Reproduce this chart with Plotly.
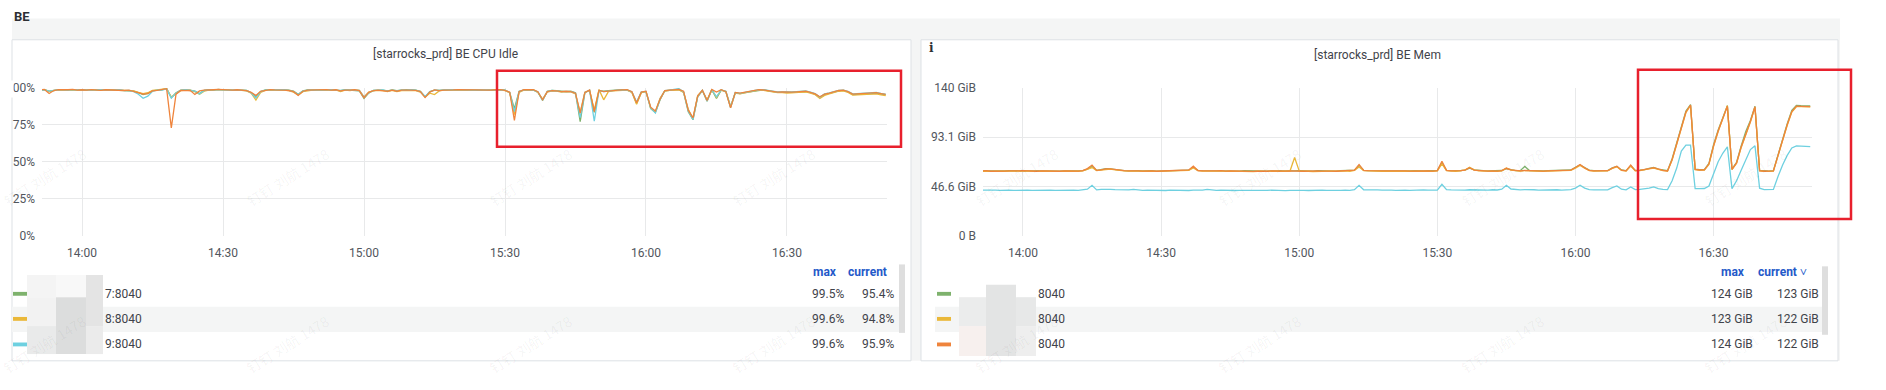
import plotly.graph_objects as go
import pandas as pd

W, H = 1886, 390

# ---------------- data ----------------
START = "2024-01-01 13:51"      # one sample per minute, 13:51 .. 16:51
N_POINTS = 181
times = pd.date_range(START, periods=N_POINTS, freq="min")

# BE CPU Idle (%)
cpu_green = [
    98.6, 98.9, 97.8, 98.5, 98.7, 98.9, 98.6, 98.8, 98.9, 98.6,
    98.7, 98.8, 98.5, 98.6, 98.9, 98.7, 98.6, 98.8, 98.6, 98.4,
    97.9, 96.8, 95.5, 96.3, 98.0, 98.6, 98.7, 99.5, 93.5, 96.8,
    98.5, 98.7, 98.6, 97.8, 96.2, 98.4, 98.8, 98.6, 99.0, 98.7,
    98.8, 98.7, 98.9, 98.6, 98.4, 96.8, 94.2, 97.5, 98.7, 98.8,
    98.6, 98.9, 98.7, 98.5, 97.8, 95.8, 98.0, 98.7, 98.6, 98.8,
    98.9, 98.7, 98.8, 98.6, 98.2, 98.8, 98.7, 98.6, 98.0, 93.0,
    96.5, 98.4, 98.7, 98.5, 98.0, 98.7, 98.2, 98.6, 98.8, 98.7,
    98.6, 97.8, 94.0, 97.5, 98.6, 98.4, 98.8, 98.7, 98.9, 98.8,
    98.9, 98.7, 98.8, 98.9, 98.7, 98.6, 98.7, 98.9, 98.8, 98.6,
    96.8, 86.0, 97.8, 98.6, 98.8, 98.7, 97.2, 91.5, 97.8, 98.4,
    98.2, 97.8, 97.5, 97.8, 96.8, 77.2, 96.8, 98.4, 83.5, 98.2,
    97.8, 98.2, 98.5, 98.6, 98.8, 98.6, 97.2, 89.5, 97.0, 97.5,
    86.0, 83.5, 92.0, 98.1, 98.7, 98.8, 98.9, 97.2, 84.0, 78.5,
    94.0, 98.3, 91.0, 98.8, 93.0, 98.6, 97.8, 87.5, 96.8, 96.2,
    96.8, 97.3, 97.8, 98.7, 98.8, 98.1, 97.3, 97.0, 97.1, 96.8,
    97.0, 97.2, 97.4, 97.6, 96.8, 95.8, 93.5, 95.5, 96.3, 97.3,
    98.1, 98.4, 97.3, 95.5, 95.8, 96.2, 96.0, 96.2, 96.5, 95.9,
    95.4,
]
cpu_yellow = [
    98.7, 98.8, 97.5, 98.4, 98.6, 98.8, 98.9, 98.7, 98.5, 98.7,
    98.6, 98.9, 98.8, 98.5, 98.7, 98.9, 98.7, 98.6, 98.4, 98.5,
    98.0, 97.0, 96.2, 96.8, 98.3, 98.7, 98.9, 99.6, 93.8, 96.0,
    98.2, 98.5, 98.3, 97.5, 95.8, 97.8, 98.6, 98.8, 98.9, 98.6,
    98.7, 98.5, 98.7, 98.4, 98.0, 96.5, 91.8, 97.0, 98.4, 98.7,
    98.5, 98.7, 98.4, 98.2, 97.2, 95.2, 97.5, 98.3, 98.6, 98.7,
    98.5, 98.8, 98.5, 98.7, 97.5, 98.5, 98.3, 98.7, 98.4, 94.0,
    97.2, 98.0, 98.4, 98.2, 97.5, 98.4, 97.5, 98.3, 98.6, 98.4,
    98.2, 97.2, 93.8, 96.5, 95.5, 98.0, 98.5, 98.7, 98.5, 98.6,
    98.6, 98.5, 98.7, 98.6, 98.5, 98.4, 98.6, 98.7, 98.8, 98.2,
    96.9, 82.0, 97.0, 98.5, 98.6, 98.8, 97.0, 92.5, 97.2, 98.0,
    97.8, 97.2, 97.5, 97.3, 96.0, 83.5, 97.2, 98.3, 85.0, 98.9,
    92.0, 97.5, 98.0, 98.2, 98.5, 98.6, 97.0, 89.0, 96.8, 97.5,
    86.5, 83.8, 93.0, 97.9, 98.4, 98.7, 98.8, 97.0, 85.5, 79.2,
    94.8, 98.2, 92.0, 98.7, 93.5, 98.5, 97.3, 87.0, 96.5, 96.0,
    96.5, 97.0, 97.5, 98.5, 98.4, 97.9, 97.0, 96.8, 96.9, 96.5,
    96.7, 96.9, 97.1, 97.3, 96.5, 95.5, 93.0, 95.0, 96.0, 97.0,
    97.8, 98.1, 97.0, 95.2, 95.4, 95.8, 95.6, 95.8, 96.0, 95.3,
    94.8,
]
cpu_cyan = [
    98.5, 98.7, 97.9, 98.6, 98.8, 98.7, 98.5, 98.9, 98.7, 98.5,
    98.8, 98.6, 98.7, 98.9, 98.5, 98.8, 98.7, 98.9, 98.2, 98.3,
    97.5, 95.8, 93.0, 94.5, 97.8, 98.5, 98.6, 99.4, 93.2, 96.5,
    98.4, 98.8, 98.5, 97.9, 96.0, 98.3, 98.7, 98.9, 98.7, 98.9,
    98.6, 98.8, 98.7, 98.4, 98.3, 96.6, 93.3, 97.6, 98.5, 98.7,
    98.8, 98.6, 98.8, 98.4, 97.6, 95.6, 97.9, 98.6, 98.8, 98.7,
    98.6, 98.8, 98.9, 98.5, 98.3, 98.7, 98.6, 98.9, 98.3, 93.8,
    96.8, 98.3, 98.5, 98.7, 97.9, 98.5, 98.0, 98.7, 98.5, 98.8,
    98.5, 97.5, 94.2, 97.4, 98.5, 98.3, 98.7, 98.8, 98.6, 99.0,
    98.7, 98.8, 98.6, 98.8, 98.9, 98.7, 98.5, 98.6, 98.9, 98.5,
    97.0, 84.0, 97.6, 98.7, 98.9, 98.6, 97.4, 91.8, 97.6, 98.3,
    98.1, 97.6, 97.7, 97.5, 96.6, 80.0, 97.0, 98.5, 77.5, 98.3,
    97.6, 98.1, 98.4, 98.6, 98.6, 98.7, 97.4, 90.5, 97.4, 97.7,
    86.5, 83.0, 92.5, 98.2, 98.5, 98.8, 99.6, 97.3, 84.5, 78.8,
    94.2, 98.4, 91.2, 98.9, 94.0, 98.7, 97.6, 86.8, 96.9, 96.4,
    97.1, 97.6, 98.1, 98.8, 98.9, 98.4, 97.6, 97.3, 97.4, 97.2,
    97.4, 97.6, 97.8, 98.0, 97.2, 96.2, 93.8, 96.0, 96.7, 97.6,
    98.4, 98.6, 97.7, 96.0, 96.2, 96.7, 96.5, 96.7, 97.0, 96.3,
    95.9,
]
cpu_orange = [
    98.8, 99.0, 96.3, 98.3, 98.9, 98.7, 98.8, 99.0, 98.6, 98.8,
    98.5, 98.9, 98.7, 98.4, 98.8, 98.6, 98.9, 98.5, 98.3, 98.6,
    97.8, 96.5, 95.8, 96.2, 98.0, 98.4, 98.8, 99.5, 73.0, 95.8,
    98.3, 98.6, 98.4, 95.6, 98.0, 98.5, 98.9, 98.8, 99.0, 98.8,
    98.9, 98.6, 98.8, 98.5, 98.2, 97.0, 95.0, 97.8, 98.6, 98.9,
    98.7, 98.8, 98.6, 98.3, 97.5, 95.0, 97.8, 98.5, 98.7, 98.9,
    98.7, 98.9, 98.6, 98.8, 98.0, 98.6, 98.5, 98.8, 98.2, 93.5,
    97.0, 98.2, 98.6, 98.4, 97.8, 98.6, 97.8, 98.5, 98.7, 98.6,
    98.4, 97.6, 93.5, 97.2, 98.7, 98.2, 98.6, 98.9, 98.7, 98.9,
    98.8, 98.6, 98.9, 98.7, 98.8, 98.6, 98.5, 98.8, 98.9, 98.4,
    97.2, 78.0, 97.5, 98.8, 98.7, 98.9, 97.5, 92.0, 97.5, 98.2,
    98.0, 97.5, 97.8, 97.6, 96.5, 83.0, 97.0, 98.6, 84.0, 98.4,
    97.5, 98.0, 98.3, 98.5, 98.7, 98.8, 97.5, 90.0, 97.2, 97.8,
    87.0, 84.5, 92.5, 98.3, 98.6, 98.9, 99.0, 97.8, 85.0, 79.8,
    94.5, 98.5, 91.5, 99.0, 97.2, 98.8, 97.5, 86.5, 97.0, 96.5,
    97.0, 97.5, 98.0, 98.9, 98.7, 98.3, 97.5, 97.2, 97.3, 97.0,
    97.2, 97.4, 97.6, 97.8, 97.0, 96.0, 94.0, 95.8, 96.5, 97.5,
    98.3, 98.5, 97.5, 95.8, 96.0, 96.5, 96.3, 96.5, 96.8, 96.2,
    95.6,
]

# BE Mem (GiB)
mem_green = [
    61.4, 61.3, 61.2, 61.5, 61.4, 61.3, 61.6, 61.3, 61.2, 61.4,
    61.3, 61.5, 61.2, 61.4, 61.3, 61.1, 61.3, 61.2, 61.4, 61.3,
    61.5, 61.3, 61.6, 63.0, 65.5, 61.9, 62.5, 63.5, 63.3, 62.5,
    61.8, 61.6, 61.4, 61.7, 61.5, 61.4, 61.6, 61.5, 61.2, 61.4,
    61.5, 61.4, 61.6, 61.5, 61.7, 62.0, 64.8, 61.9, 61.5, 61.4,
    61.6, 61.5, 61.7, 61.3, 61.5, 61.4, 61.2, 61.5, 61.3, 61.1,
    61.3, 61.1, 61.2, 61.4, 61.3, 61.1, 61.4, 61.5, 61.3, 61.5,
    61.2, 61.4, 61.1, 61.5, 61.3, 61.6, 61.4, 61.2, 61.5, 61.6,
    61.4, 62.0, 66.5, 61.9, 61.6, 61.5, 61.7, 61.4, 61.6, 61.5,
    61.6, 61.4, 61.5, 61.3, 61.5, 61.2, 61.4, 61.5, 61.3, 61.7,
    69.0, 61.9, 61.5, 61.4, 61.6, 62.1, 64.0, 62.2, 61.6, 61.5,
    61.4, 61.5, 61.3, 61.7, 63.5, 62.3, 61.5, 61.6, 65.5, 61.7,
    61.4, 61.5, 61.3, 61.5, 61.6, 61.4, 61.5, 61.8, 62.2, 64.8,
    67.0, 64.5, 62.0, 61.5, 61.4, 61.5, 61.6, 64.2, 65.5, 62.2,
    61.6, 66.2, 61.8, 62.0, 62.5, 63.8, 64.6, 63.0, 62.0, 61.5,
    72.8, 88.0, 103.0, 118.0, 124.0, 63.0, 62.4, 62.5, 68.5, 86.0,
    100.0, 112.0, 123.0, 63.0, 69.5, 85.0, 98.5, 109.0, 122.5, 61.8,
    61.2, 61.0, 61.5, 77.0, 92.0, 106.0, 118.5, 123.2, 123.0, 122.9,
    122.8,
]
mem_yellow = [
    61.0, 61.3, 60.9, 61.1, 61.4, 61.0, 61.2, 60.9, 61.1, 61.3,
    61.0, 61.2, 60.8, 61.1, 60.9, 60.7, 61.0, 60.8, 61.1, 60.9,
    61.2, 61.0, 61.3, 62.8, 64.5, 61.6, 62.0, 63.0, 63.0, 62.2,
    61.5, 61.3, 61.1, 61.4, 61.2, 61.0, 61.3, 61.1, 60.8, 61.0,
    61.2, 61.0, 61.3, 61.1, 61.4, 61.9, 64.2, 61.5, 61.2, 61.0,
    61.3, 61.1, 61.4, 60.9, 61.2, 61.0, 60.8, 61.1, 60.9, 60.7,
    61.0, 60.6, 60.8, 61.1, 60.9, 60.7, 61.0, 61.2, 74.0, 61.3,
    60.8, 61.0, 60.7, 61.1, 60.9, 61.2, 61.0, 60.8, 61.1, 61.3,
    61.0, 61.8, 65.0, 61.6, 61.3, 61.1, 61.4, 61.0, 61.2, 61.1,
    61.3, 61.0, 61.2, 60.9, 61.1, 60.8, 61.0, 61.2, 60.9, 61.4,
    68.0, 61.6, 61.2, 61.0, 61.3, 62.2, 64.8, 62.3, 61.3, 61.1,
    61.0, 61.2, 60.9, 61.4, 64.0, 62.0, 61.2, 61.1, 61.6, 61.3,
    61.0, 61.2, 60.9, 61.1, 61.3, 61.0, 61.2, 61.4, 61.8, 64.0,
    66.5, 64.0, 61.6, 61.2, 61.0, 61.1, 61.3, 63.6, 65.2, 61.8,
    61.2, 66.0, 61.4, 61.6, 62.1, 63.2, 64.0, 62.6, 61.6, 61.1,
    71.5, 86.5, 101.5, 116.5, 123.2, 62.6, 62.0, 62.1, 67.5, 84.5,
    98.5, 110.5, 123.0, 62.6, 68.5, 83.5, 95.0, 107.5, 121.5, 61.3,
    60.8, 60.6, 61.1, 75.5, 90.5, 104.5, 117.0, 122.0, 122.1, 122.0,
    121.9,
]
mem_orange = [
    61.2, 61.5, 61.0, 61.3, 61.6, 61.2, 61.4, 61.1, 61.3, 61.5,
    61.2, 61.4, 61.0, 61.3, 61.1, 60.9, 61.2, 61.0, 61.3, 61.1,
    61.4, 61.2, 61.5, 63.5, 66.8, 61.8, 62.3, 63.3, 63.2, 62.4,
    61.7, 61.5, 61.3, 61.6, 61.4, 61.2, 61.5, 61.3, 61.0, 61.2,
    61.4, 61.2, 61.5, 61.3, 61.6, 62.2, 65.8, 61.7, 61.4, 61.2,
    61.5, 61.3, 61.6, 61.1, 61.4, 61.2, 61.0, 61.3, 61.1, 60.9,
    61.2, 60.8, 61.0, 61.3, 61.1, 60.9, 61.2, 61.4, 61.1, 61.3,
    61.0, 61.2, 60.9, 61.3, 61.1, 61.4, 61.2, 61.0, 61.3, 61.5,
    61.2, 62.0, 67.4, 61.8, 61.5, 61.3, 61.6, 61.2, 61.4, 61.3,
    61.5, 61.2, 61.4, 61.1, 61.3, 61.0, 61.2, 61.4, 61.1, 61.6,
    70.4, 61.8, 61.4, 61.2, 61.5, 62.0, 64.4, 62.0, 61.5, 61.3,
    61.2, 61.4, 61.1, 61.6, 63.8, 62.2, 61.4, 61.3, 61.8, 61.5,
    61.2, 61.4, 61.1, 61.3, 61.5, 61.2, 61.4, 61.6, 62.0, 64.5,
    67.4, 64.2, 61.8, 61.4, 61.2, 61.3, 61.5, 64.0, 65.8, 62.0,
    61.4, 66.8, 61.6, 61.8, 62.3, 63.5, 64.4, 62.8, 61.8, 61.3,
    72.0, 87.0, 102.0, 117.0, 123.6, 62.8, 62.2, 62.3, 68.0, 85.0,
    99.0, 111.0, 122.5, 62.8, 68.9, 84.0, 95.5, 108.0, 122.0, 61.5,
    61.0, 60.8, 61.3, 76.0, 91.0, 105.0, 117.5, 122.5, 122.4, 122.3,
    122.1,
]
mem_cyan = [
    43.1, 43.3, 42.9, 43.2, 43.0, 43.3, 43.1, 42.9, 43.2, 43.0,
    43.2, 42.9, 43.1, 42.8, 43.0, 43.2, 42.9, 43.1, 43.0, 42.8,
    43.1, 42.9, 43.2, 44.0, 47.7, 43.4, 43.8, 44.0, 43.9, 43.6,
    43.3, 43.1, 43.4, 43.8, 43.2, 43.0, 43.1, 42.9, 43.2, 43.0,
    42.8, 43.1, 42.9, 43.2, 43.0, 42.8, 43.1, 42.9, 43.2, 43.8,
    43.3, 43.0, 43.2, 42.9, 43.1, 42.8, 43.0, 42.9, 43.1, 42.8,
    43.0, 42.7, 42.9, 43.1, 42.8, 43.0, 42.7, 42.9, 43.1, 42.8,
    43.0, 42.8, 43.1, 42.9, 43.2, 43.0, 42.8, 43.1, 42.9, 43.2,
    43.0, 43.6, 47.7, 43.5, 43.2, 43.0, 43.3, 43.1, 43.4, 43.2,
    43.0, 43.3, 43.1, 42.9, 43.2, 43.0, 43.3, 43.1, 42.9, 43.2,
    48.6, 43.6, 43.3, 43.1, 43.4, 43.2, 43.5, 43.3, 43.1, 43.4,
    43.2, 43.5, 43.3, 44.0, 47.7, 44.2, 43.6, 43.4, 43.7, 43.3,
    43.5, 43.2, 43.4, 43.1, 43.3, 43.5, 43.2, 43.4, 43.6, 45.0,
    47.7, 45.0, 43.6, 43.3, 43.5, 43.2, 43.4, 45.5, 47.1, 44.0,
    43.4, 46.2, 43.6, 43.8, 44.2, 45.0, 46.2, 44.5, 43.8, 43.7,
    52.0, 64.0, 80.0, 85.6, 85.6, 44.6, 44.5, 44.7, 47.0, 59.0,
    70.0, 78.0, 84.0, 44.6, 52.0, 62.0, 72.5, 81.5, 85.0, 45.0,
    43.7, 43.5, 43.8, 56.0, 67.0, 76.0, 83.0, 85.0, 84.5, 84.3,
    84.2,
]

cpu_ticks = [0, 25, 50, 75, 100]
cpu_tick_text = ["0%", "25%", "50%", "75%", "100%"]
mem_ticks = [0, 46.566, 93.132, 139.698]          # 0, 50 GB, 100 GB, 150 GB
mem_tick_text = ["0 B", "46.6 GiB", "93.1 GiB", "140 GiB"]

cpu_legend_names = ["7:8040", "8:8040", "9:8040"]
mem_legend_names = ["8040", "8040", "8040"]
watermark = "钉钉 刘航 1478"

# ---------------- style ----------------
GREEN, YELLOW, CYAN, ORANGE = "#7EB26D", "#EAB839", "#6ED0E0", "#EF843C"
TXT = "#3f434a"
TICK = "#52565d"
GRID = "#e8e9ea"
BLUE = "#2459c9"
RED = "#e8202d"
FONT = "Roboto"


def px(x):
    return x / W


def py(y):
    return 1 - y / H


shapes = []
annotations = []


def rect(x0, y0, x1, y1, fill=None, line=None, lw=0, layer="below"):
    shapes.append(dict(type="rect", xref="paper", yref="paper",
                       x0=px(x0), x1=px(x1), y0=py(y1), y1=py(y0),
                       fillcolor=fill if fill else "rgba(0,0,0,0)",
                       line=dict(color=line if line else "rgba(0,0,0,0)", width=lw),
                       layer=layer))


def text(x, y, s, size=12, color=TXT, xanchor="left", yanchor="middle",
         family=FONT, angle=0):
    annotations.append(dict(xref="paper", yref="paper", x=px(x), y=py(y),
                            text=s, showarrow=False, xanchor=xanchor,
                            yanchor=yanchor, textangle=angle,
                            font=dict(family=family, size=size, color=color)))


# background: row header band, gap between panels
rect(12, 12, 1840, 367, fill="#f4f5f5")
# panels
rect(12, 34, 911, 367, fill="#ffffff", line="#dde1e5", lw=1)
rect(921, 34, 1838, 367, fill="#ffffff", line="#dde1e5", lw=1)

# ---------------- figure ----------------
fig = go.Figure()

for vals, col in [(cpu_green, GREEN), (cpu_yellow, YELLOW),
                  (cpu_cyan, CYAN), (cpu_orange, ORANGE)]:
    fig.add_trace(go.Scatter(x=times, y=vals, mode="lines", xaxis="x", yaxis="y",
                             line=dict(color=col, width=1.3), hoverinfo="skip",
                             showlegend=False))

for vals, col in [(mem_green, GREEN), (mem_yellow, YELLOW),
                  (mem_orange, ORANGE), (mem_cyan, CYAN)]:
    fig.add_trace(go.Scatter(x=times, y=vals, mode="lines", xaxis="x2", yaxis="y2",
                             line=dict(color=col, width=1.3), hoverinfo="skip",
                             showlegend=False))

xcommon = dict(type="date", tickformat="%H:%M", dtick=30 * 60 * 1000,
               tick0="2024-01-01 14:00", showgrid=True, gridcolor=GRID, gridwidth=1,
               zeroline=False, showline=False, ticks="", ticklabelstandoff=8,
               tickfont=dict(family=FONT, size=12, color=TICK), fixedrange=True)
ycommon = dict(showgrid=True, gridcolor=GRID, gridwidth=1, zeroline=False,
               showline=False, ticks="", ticklabelstandoff=6,
               tickfont=dict(family=FONT, size=12, color=TICK), fixedrange=True)

fig.update_layout(
    width=W, height=H, autosize=False,
    margin=dict(l=0, r=0, t=0, b=0),
    paper_bgcolor="#ffffff", plot_bgcolor="rgba(0,0,0,0)",
    showlegend=False, hovermode=False,
    xaxis=dict(xcommon, domain=[px(42), px(887)], anchor="y",
               range=["2024-01-01 13:51:29", "2024-01-01 16:51:17"]),
    yaxis=dict(ycommon, domain=[py(237.3), py(84)], anchor="x", range=[0, 100],
               tickvals=cpu_ticks, ticktext=cpu_tick_text),
    xaxis2=dict(xcommon, domain=[px(983), px(1812)], anchor="y2",
                range=["2024-01-01 13:51:19", "2024-01-01 16:51:23"]),
    yaxis2=dict(ycommon, domain=[py(237.3), py(84)], anchor="x2",
                range=[0, 139.698], tickvals=mem_ticks, ticktext=mem_tick_text),
)

# ---------------- titles ----------------
text(12, 10, "<b>BE</b>", size=13, color="#2c2f33")
text(445, 49, "[starrocks_prd] BE CPU Idle", size=12, xanchor="center")
text(1377, 50, "[starrocks_prd] BE Mem", size=12, xanchor="center")
text(927, 43, "<b>i</b>", size=12, color="#2c2f33", family="DejaVu Serif")


# ---------------- legends ----------------
def legend(x_sw, x_name, name_list, series, colors, hdr_max, hdr_cur, cur_txt,
           val_max, val_cur, hl_x0, hl_x1, fmt, mosaic):
    rect(hl_x0, 311, hl_x1, 337, fill="#f4f5f5")
    for (mx0, my0, mx1, my1, mc) in mosaic:
        rect(mx0, my0, mx1, my1, fill=mc)
    text(hdr_max, 275, "<b>max</b>", size=12, color=BLUE, xanchor="right")
    text(hdr_cur, 275, "<b>" + cur_txt + "</b>", size=12, color=BLUE, xanchor="right")
    for i, (nm, vals, col) in enumerate(zip(name_list, series, colors)):
        yc = [297.5, 323.5, 350][i]
        rect(x_sw, yc - 2, x_sw + 14, yc + 2, fill=col)
        text(x_name, yc, nm)
        text(val_max, yc, fmt(max(vals)), xanchor="right")
        text(val_cur, yc, fmt(vals[-1]), xanchor="right")


legend(13, 103, cpu_legend_names, [cpu_green, cpu_yellow, cpu_cyan],
       [GREEN, YELLOW, CYAN], 839, 889, "current", 846, 896, 12, 899,
       lambda v: f"{v:.1f}%",
       [(27, 278, 56, 301, "#f4f4f4"), (56, 278, 86, 301, "#f8f8f8"),
        (86, 278, 103, 331, "#e4e4e4"), (27, 301, 56, 331, "#f2f2f2"),
        (56, 301, 86, 360, "#dcdddd"), (27, 331, 56, 360, "#e9eaea"),
        (86, 331, 103, 360, "#ebebeb")])

legend(937, 1036, mem_legend_names, [mem_green, mem_yellow, mem_orange],
       [GREEN, YELLOW, ORANGE], 1747, 1809, "current ˅", 1755, 1821, 935, 1822,
       lambda v: f"{round(v)} GiB",
       [(986, 288, 1016, 362, "#e3e4e4"), (959, 301, 986, 331, "#ebecec"),
        (1016, 301, 1036, 331, "#e7e8e8"), (959, 331, 986, 362, "#f7f0ee"),
        (1016, 331, 1036, 362, "#eeeeee")])

# scrollbars
rect(899, 267, 905, 338, fill="#dedede")
rect(1822, 269, 1828, 340, fill="#dedede")

# red highlight boxes
rect(497, 66, 901, 145, line=RED, lw=2.5, layer="above")
rect(1638, 65, 1851, 220, line=RED, lw=2.5, layer="above")

# watermarks
for yc in [176, 350]:
    for k in range(8):
        text(45 + 243 * k, yc, watermark, size=14, color="rgba(0,0,0,0.05)",
             xanchor="center", family="Noto Sans CJK SC", angle=-32)

# cover for the "1" of 100% that is clipped at the panel edge in the original
annotations.append(dict(xref="paper", yref="paper", x=0, y=py(76), xanchor="left",
                        yanchor="top", text=" ", showarrow=False, width=12,
                        height=16, bgcolor="#ffffff", borderpad=0))

fig.update_layout(shapes=shapes, annotations=annotations)
fig.write_html("out.html", config={"displayModeBar": False, "staticPlot": True},
               post_script="document.body.style.margin='0';"
                           "document.body.style.overflow='hidden';")
